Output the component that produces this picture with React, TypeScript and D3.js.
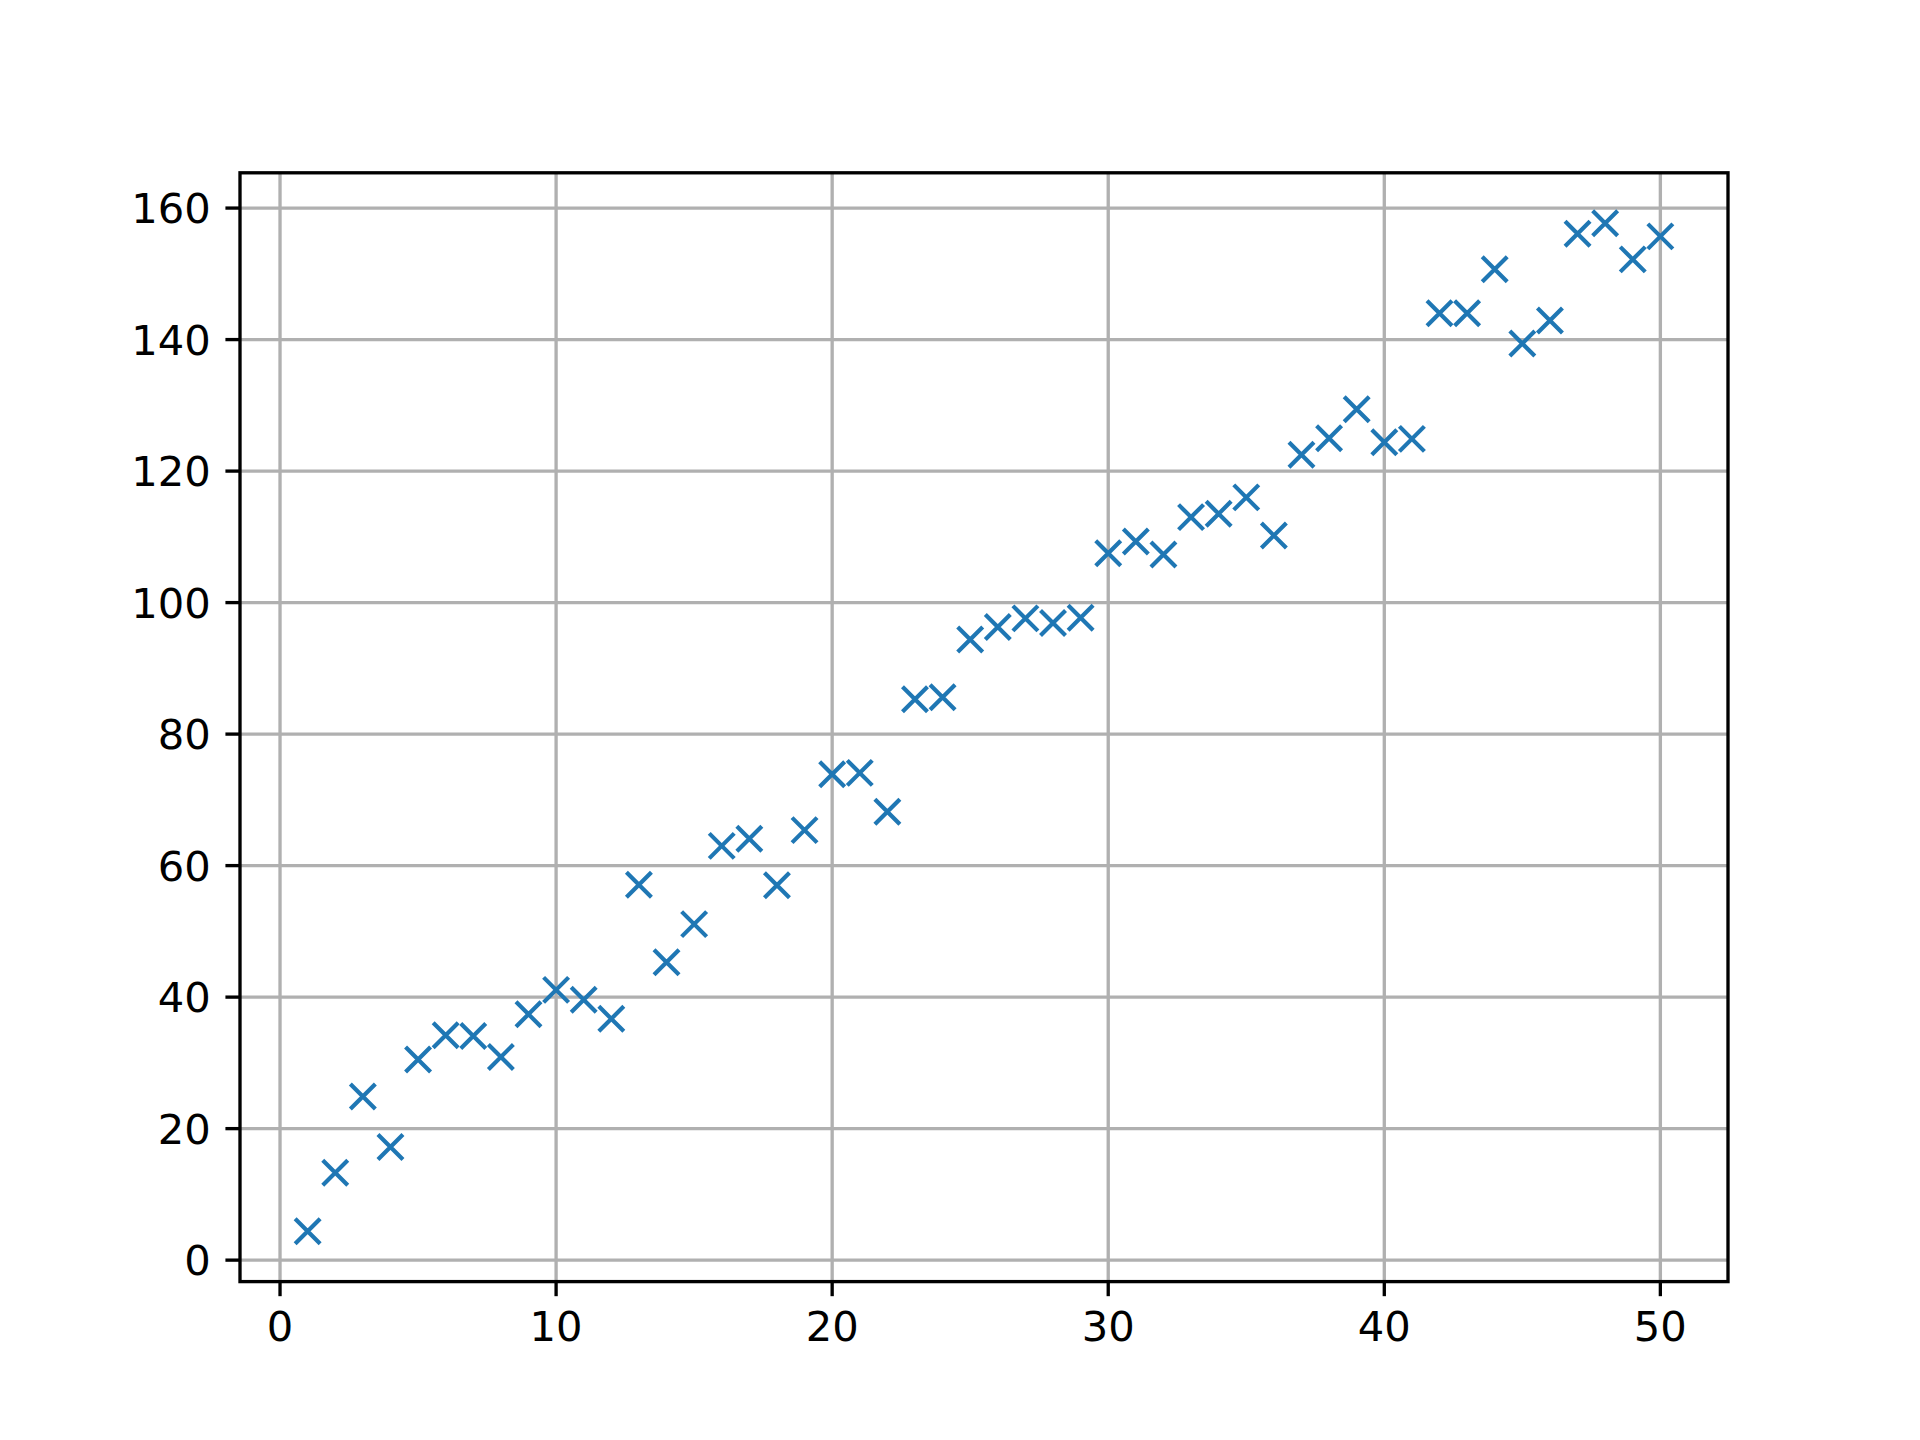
import { useEffect, useRef } from 'react';
import * as d3 from 'd3';

// values
const xValues = [
  1, 2, 3, 4, 5, 6, 7, 8, 9, 10,
  11, 12, 13, 14, 15, 16, 17, 18, 19, 20,
  21, 22, 23, 24, 25, 26, 27, 28, 29, 30,
  31, 32, 33, 34, 35, 36, 37, 38, 39, 40,
  41, 42, 43, 44, 45, 46, 47, 48, 49, 50,
];
const yValues = [
  4.4, 13.3, 24.9, 17.2, 30.5, 34.2, 34.1, 30.9, 37.4, 41.1,
  39.6, 36.7, 57.1, 45.3, 51.1, 63.0, 64.1, 57.0, 65.4, 73.9,
  74.1, 68.2, 85.3, 85.6, 94.4, 96.3, 97.6, 96.9, 97.7, 107.5,
  109.3, 107.3, 113.0, 113.5, 116.0, 110.2, 122.5, 125.0, 129.4, 124.4,
  124.9, 144.0, 144.0, 150.7, 139.4, 142.9, 156.1, 157.7, 152.2, 155.7,
];
const xTicks = [0, 10, 20, 30, 40, 50];
const yTicks = [0, 20, 40, 60, 80, 100, 120, 140, 160];

export default function App() {
  const svgRef = useRef<SVGSVGElement>(null);
  const width = 1920;
  const height = 1440;

  useEffect(() => {
    if (!svgRef.current) return;
    const svg = d3.select(svgRef.current);
    svg.selectAll('*').remove();

    const pt = 300 / 72;
    const left = 240, right = 1728, top = 172.8, bottom = 1281.6;

    const [xmin, xmax] = d3.extent(xValues) as [number, number];
    const [ymin, ymax] = d3.extent(yValues) as [number, number];
    const xPad = (xmax - xmin) * 0.05;
    const yPad = (ymax - ymin) * 0.05;

    const x = d3.scaleLinear().domain([xmin - xPad, xmax + xPad]).range([left, right]);
    const y = d3.scaleLinear().domain([ymin - yPad, ymax + yPad]).range([bottom, top]);

    svg.append('rect').attr('width', width).attr('height', height).attr('fill', '#ffffff');

    // grid
    const grid = svg.append('g').attr('stroke', '#b0b0b0').attr('stroke-width', 0.8 * pt);
    xTicks.forEach(t => {
      grid.append('line').attr('x1', x(t)).attr('x2', x(t)).attr('y1', top).attr('y2', bottom);
    });
    yTicks.forEach(t => {
      grid.append('line').attr('x1', left).attr('x2', right).attr('y1', y(t)).attr('y2', y(t));
    });

    // x markers
    const half = (6 * pt) / 2;
    const pts = svg.append('g')
      .attr('stroke', '#1f77b4')
      .attr('stroke-width', 1 * pt)
      .attr('fill', 'none');
    xValues.forEach((xv, i) => {
      const cx = x(xv), cy = y(yValues[i]);
      pts.append('path')
        .attr('d', `M${cx - half},${cy - half}L${cx + half},${cy + half}M${cx - half},${cy + half}L${cx + half},${cy - half}`);
    });

    // ticks
    const tickLen = 3.5 * pt;
    const ticks = svg.append('g').attr('stroke', '#000').attr('stroke-width', 0.8 * pt);
    xTicks.forEach(t => {
      ticks.append('line').attr('x1', x(t)).attr('x2', x(t)).attr('y1', bottom).attr('y2', bottom + tickLen);
    });
    yTicks.forEach(t => {
      ticks.append('line').attr('x1', left - tickLen).attr('x2', left).attr('y1', y(t)).attr('y2', y(t));
    });

    // tick labels
    const fontSize = 10 * pt;
    const labels = svg.append('g')
      .style('font-family', '"DejaVu Sans", sans-serif')
      .style('font-size', `${fontSize}px`)
      .attr('fill', '#000');
    xTicks.forEach(t => {
      labels.append('text')
        .attr('x', x(t))
        .attr('y', bottom + tickLen + 3.5 * pt + 0.73 * fontSize)
        .attr('text-anchor', 'middle')
        .text(String(t));
    });
    yTicks.forEach(t => {
      labels.append('text')
        .attr('x', left - tickLen - 3.5 * pt)
        .attr('y', y(t) + 0.365 * fontSize)
        .attr('text-anchor', 'end')
        .text(String(t));
    });

    // spines
    svg.append('rect')
      .attr('x', left).attr('y', top)
      .attr('width', right - left).attr('height', bottom - top)
      .attr('fill', 'none')
      .attr('stroke', '#000')
      .attr('stroke-width', 0.8 * pt)
      .attr('stroke-linejoin', 'miter');
  }, []);

  return (
    <svg
      ref={svgRef}
      width={width}
      height={height}
      style={{ position: 'absolute', left: 0, top: 0, display: 'block' }}
    ></svg>
  );
}
